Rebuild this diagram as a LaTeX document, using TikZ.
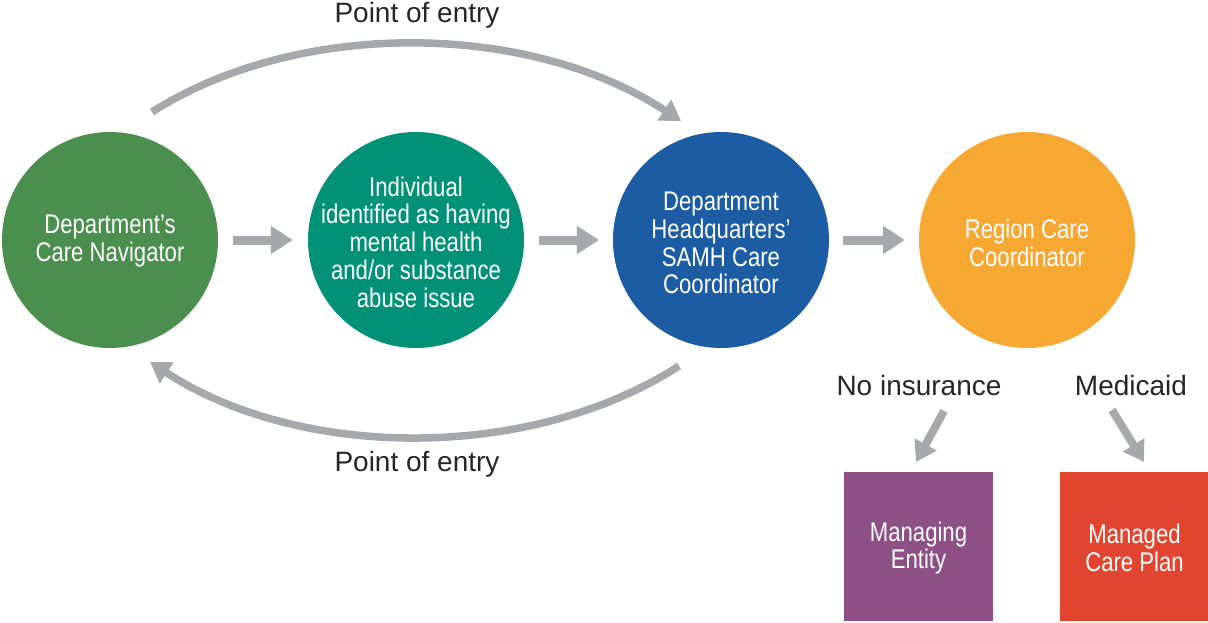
\documentclass[tikz,border=0pt]{standalone}
\usepackage{fontspec}
\setmainfont{Liberation Sans}
\newfontfamily\condfont[FakeStretch=0.82]{Liberation Sans}
\usetikzlibrary{arrows.meta}
\definecolor{cgreen}{HTML}{4A8F4E}
\definecolor{cteal}{HTML}{009177}
\definecolor{cblue}{HTML}{1B5CA3}
\definecolor{corange}{HTML}{F7A833}
\definecolor{cpurple}{HTML}{8E4F87}
\definecolor{cred}{HTML}{E1452F}
\definecolor{cgray}{HTML}{A7A8AB}
\tikzset{
  circ/.style={circle, minimum size=216pt, inner sep=0pt, draw=none},
  ctext/.style={text=white, align=center, font=\condfont\fontsize{27}{27.7}\selectfont, inner sep=0pt},
  boxn/.style={rectangle, minimum width=149pt, minimum height=149pt, inner sep=0pt, draw=none},
  lbl/.style={text=black!85, font=\fontsize{28}{30}\selectfont, inner sep=0pt},
  harrow/.style={draw=cgray, line width=9pt, -{Triangle[width=27pt,length=22pt]}},
  carrow/.style={draw=cgray, line width=7.5pt, -{Triangle[width=24pt,length=20pt]}},
  darrow/.style={draw=cgray, line width=8pt, -{Triangle[width=24pt,length=20pt]}},
}
\begin{document}
\begin{tikzpicture}[x=1pt,y=-1pt]
\useasboundingbox (0,0) rectangle (1208,623);
% circles
\node[circ, fill=cgreen] (nav) at (110,240) {};
\node[circ, fill=cteal] (ind) at (416,240) {};
\node[circ, fill=cblue] (hq) at (721,240) {};
\node[circ, fill=corange] (reg) at (1027,240) {};
\node[ctext] (navt) at (110,241) {Department’s\\Care Navigator};
\node[ctext] (indt) at (416,242) {Individual\\identified as having\\mental health\\and/or substance\\abuse issue};
\node[ctext] (hqt) at (721,243) {Department\\Headquarters’\\SAMH Care\\Coordinator};
\node[ctext] (regt) at (1027,243) {Region Care\\Coordinator};
% boxes
\node[boxn, fill=cpurple] (me) at (918.5,546.5) {};
\node[boxn, fill=cred] (mcp) at (1134.5,546.5) {};
\node[ctext] (met) at (918.5,548) {Managing\\Entity};
\node[ctext] (mcpt) at (1134.5,548) {Managed\\Care Plan};
% labels
\node[lbl] (ptop) at (417,15) {Point of entry};
\node[lbl] (pbot) at (417,464) {Point of entry};
\node[lbl] (noins) at (919,385) {No insurance};
\node[lbl] (medic) at (1131,385) {Medicaid};
% horizontal arrows
\draw[harrow, shorten <=15pt, shorten >=15pt] (nav.east) -- (ind.west);
\draw[harrow, shorten <=15pt, shorten >=14pt] (ind.east) -- (hq.west);
\draw[harrow, shorten <=14pt, shorten >=14pt] (hq.east) -- (reg.west);
% arcs
\coordinate (a1) at (152,112);
\coordinate (a2) at (681,121);
\coordinate (b1) at (679,366);
\coordinate (b2) at (150,362);
\draw[carrow] (a1) .. controls (300,18) and (530,22) .. (a2);
\draw[carrow] (b1) .. controls (530,462) and (300,460) .. (b2);
% diagonal arrows
\coordinate (d1) at (944,411);
\coordinate (d2) at (916,462);
\coordinate (e1) at (1112,410);
\coordinate (e2) at (1144,462);
\draw[darrow] (d1) -- (d2);
\draw[darrow] (e1) -- (e2);
\end{tikzpicture}
\end{document}
